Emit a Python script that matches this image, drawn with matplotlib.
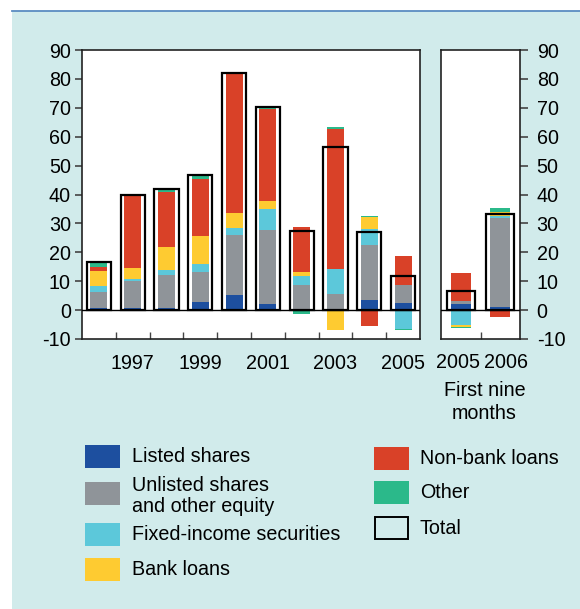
import matplotlib
matplotlib.use("Agg")
import matplotlib.pyplot as plt
import matplotlib.transforms as mtransforms
from matplotlib.patches import Rectangle
from matplotlib.lines import Line2D
import numpy as np

plt.rcParams['font.family'] = ['Liberation Sans', 'DejaVu Sans']
plt.rcParams['axes.unicode_minus'] = False
FS = 14.2

# annual data, 1996-2005
years = ["1996", "1997", "1998", "1999", "2000", "2001", "2002", "2003", "2004", "2005"]
listed = [0.8, 0.8, 0.8, 2.9, 5.1, 2.1, 0.0, 0.0, 3.6, 2.5]
unlisted = [5.4, 9.2, 11.2, 10.2, 20.8, 25.7, 8.8, 5.5, 19.0, 6.3]
fixed = [2.3, 0.6, 1.8, 2.9, 2.4, 7.2, 2.9, 8.8, 5.4, -6.4]
bank = [5.0, 4.0, 8.1, 9.5, 5.4, 2.7, 1.6, -7.0, 4.2, -0.3]
nonbank = [1.3, 24.8, 18.8, 19.9, 47.9, 32.0, 15.5, 48.4, -5.6, 10.0]
other = [1.6, 0.3, 0.7, 0.9, 0.4, 0.5, -1.3, 0.8, 0.4, -0.3]
total = [16.7, 39.7, 41.8, 46.6, 82.0, 70.4, 27.4, 56.5, 27.0, 11.9]

# first nine months, 2005 and 2006
years9 = ["2005", "2006"]
listed9 = [2.0, 1.2]
unlisted9 = [1.1, 30.6]
fixed9 = [-5.2, 0.6]
bank9 = [-0.8, 1.4]
nonbank9 = [9.6, -2.3]
other9 = [-0.3, 1.5]
total9 = [6.6, 33.4]

names = ["Listed shares", "Unlisted shares\nand other equity", "Fixed-income securities",
         "Bank loans", "Non-bank loans", "Other"]
colors = ["#1d4f9f", "#8f9499", "#5cc8da", "#fecb31", "#d94128", "#2bb98a"]

fig = plt.figure(figsize=(5.8, 6.09), dpi=100)
fig.patch.set_facecolor("white")
W, H = 580.0, 609.0

# cyan panel background + top rule
fig.add_artist(Rectangle((12 / W, 0), 1 - 12 / W, 1 - 11 / H, transform=fig.transFigure,
                         facecolor="#d1ebeb", edgecolor="none", zorder=-10))
fig.add_artist(Line2D([12 / W, 1], [1 - 11 / H, 1 - 11 / H], transform=fig.transFigure,
                      color="#5b8cc2", lw=1.3))

ax1 = fig.add_axes([82 / W, 1 - 339 / H, (420 - 82) / W, (339 - 50) / H])
ax2 = fig.add_axes([441 / W, 1 - 339 / H, (520 - 441) / W, (339 - 50) / H])


def stacked(ax, series, tot):
    x = np.arange(len(tot))
    pos = np.zeros(len(tot))
    neg = np.zeros(len(tot))
    for vals, c in zip(series, colors):
        v = np.array(vals)
        bottom = np.where(v >= 0, pos, neg)
        ax.bar(x, v, width=0.5, bottom=bottom, color=c, edgecolor="none", zorder=2)
        pos = pos + np.where(v >= 0, v, 0)
        neg = neg + np.where(v < 0, v, 0)
    ax.bar(x, tot, width=0.72, facecolor="none", edgecolor="black", lw=1.6, zorder=3)
    ax.axhline(0, color="black", lw=1.0, zorder=4)
    ax.set_xlim(-0.5, len(tot) - 0.5)
    ax.set_ylim(-10, 90)
    ax.set_yticks(range(-10, 91, 10))
    ax.set_xticks(np.arange(len(tot) - 1) + 0.5, minor=True)
    ax.tick_params(axis="x", which="minor", direction="in", length=5, width=1, color="#444444")
    ax.tick_params(axis="x", which="major", length=0, pad=11, labelsize=FS)
    for s in ax.spines.values():
        s.set_linewidth(1.2)
        s.set_color("#222222")
    ax.set_facecolor("white")


stacked(ax1, [listed, unlisted, fixed, bank, nonbank, other], total)
stacked(ax2, [listed9, unlisted9, fixed9, bank9, nonbank9, other9], total9)

ax1.set_xticks([1, 3, 5, 7, 9], [years[i] for i in [1, 3, 5, 7, 9]])
ax1.tick_params(axis="y", direction="out", length=5, width=1.2, pad=3, labelsize=FS, color="#444444")

ax2.set_xticks([0, 1], years9)
ax2.tick_params(axis="x", which="major", pad=10)
# nudge the two labels apart so they don't collide
for lab, dx in zip(ax2.get_xticklabels(), [-3, 6]):
    lab.set_transform(lab.get_transform() +
                      mtransforms.ScaledTranslation(dx / 100, 0, fig.dpi_scale_trans))
ax2.yaxis.tick_right()
ax2.tick_params(axis="y", direction="out", length=6, width=1.2, pad=6, labelsize=FS, color="#444444")
ax2.text(0.55, -0.145, "First nine\nmonths", transform=ax2.transAxes, ha="center", va="top",
         fontsize=FS, linespacing=1.25)

# legend drawn in pixel coordinates
leg = fig.add_axes([0, 0, 1, 1], facecolor="none")
leg.set_xlim(0, W)
leg.set_ylim(H, 0)
leg.axis("off")
left_items = [(0, 445), (1, 482), (2, 523), (3, 558)]
right_items = [(4, 447), (5, 481)]
for i, y in left_items:
    leg.add_patch(Rectangle((85, y), 35, 23, facecolor=colors[i], edgecolor="none"))
    ty = y + 11.5 if i != 1 else y + 14
    leg.text(132, ty, names[i], fontsize=FS, va="center", ha="left", linespacing=1.12)
for i, y in right_items:
    leg.add_patch(Rectangle((374, y), 35, 23, facecolor=colors[i], edgecolor="none"))
    leg.text(420, y + 11.5, names[i], fontsize=FS, va="center", ha="left")
leg.add_patch(Rectangle((375, 517), 33, 22, facecolor="none", edgecolor="black", lw=1.4))
leg.text(420, 528, "Total", fontsize=FS, va="center", ha="left")

fig.savefig("out.png", dpi=100)
